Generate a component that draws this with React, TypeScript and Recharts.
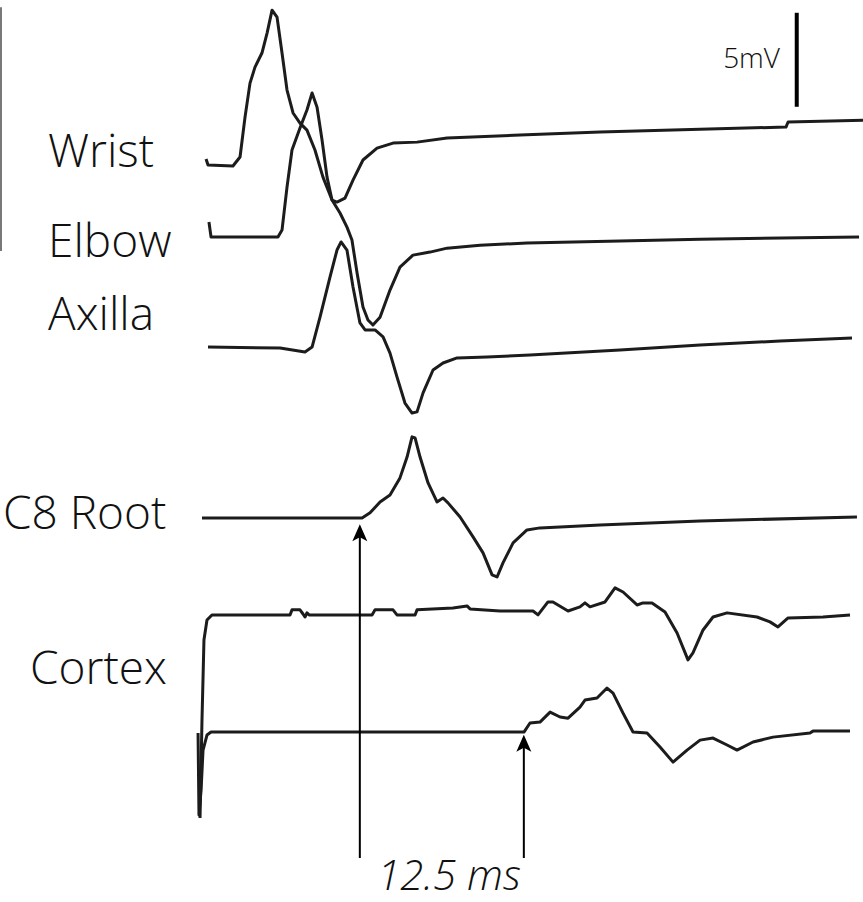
import { Customized, Line, LineChart, ReferenceLine, XAxis, YAxis } from "recharts";

// Each trace: [time in ms, amplitude in mV relative to its own baseline]
const wristTrace: [number, number][] = [
	[0.08, 0.32], [0.23, 0], [2.13, -0.05], [2.67, 0.43], [3.05, 2.55], [3.43, 4.36],
	[3.81, 5.21], [4.34, 5.96], [4.73, 7.02], [5.11, 8.24], [5.49, 7.87], [5.87, 5.96],
	[6.25, 3.99], [6.71, 2.77], [7.24, 2.23], [7.77, 1.86], [8.38, 0.8], [8.99, -0.64],
	[9.68, -1.86], [10.06, -1.97], [10.67, -1.76], [11.28, -0.8], [12.04, 0.27],
	[13.11, 0.9], [14.33, 1.17], [16.16, 1.22], [18.45, 1.44], [24.01, 1.6], [30.11, 1.76],
	[37.73, 1.91], [44.28, 2.02], [44.44, 2.29], [50.15, 2.39],
];

const elbowTrace: [number, number][] = [
	[0.3, 0.8], [0.46, 0], [5.56, 0], [5.87, 0.37], [6.25, 2.66], [6.63, 4.63], [7.24, 5.8],
	[7.77, 6.76], [8.16, 7.66], [8.54, 6.91], [8.92, 5.16], [9.3, 3.19], [9.68, 1.97],
	[10.29, 1.28], [10.82, 0.53], [11.2, -0.16], [11.59, -1.91], [12.04, -3.72],
	[12.42, -4.41], [12.8, -4.68], [13.34, -4.26], [14.1, -2.82], [14.86, -1.6],
	[15.85, -0.96], [17.15, -0.8], [18.45, -0.59], [20.96, -0.43], [24.54, -0.32],
	[31.63, -0.21], [37.73, -0.11], [49.85, 0],
];

const axillaTrace: [number, number][] = [
	[0.23, 0.05], [5.72, 0], [7.62, -0.21], [8.16, 0.05], [8.77, 1.65], [9.53, 3.78],
	[10.06, 5.21], [10.37, 5.64], [10.82, 5.21], [11.28, 3.24], [11.81, 1.33], [12.2, 0.96],
	[12.96, 0.96], [13.57, 0.59], [14.1, -0.27], [14.63, -1.54], [15.24, -2.93],
	[15.78, -3.46], [16.16, -3.4], [16.62, -2.39], [17.38, -1.17], [18.14, -0.8],
	[19.21, -0.53], [21.49, -0.48], [24.77, -0.37], [31.63, -0.11], [37.73, 0.16],
	[43.83, 0.37], [49.31, 0.53],
];

const c8RootTrace: [number, number][] = [
	[-0.23, 0], [11.97, 0], [12.58, 0.27], [13.34, 0.85], [14.1, 1.22], [14.86, 2.13],
	[15.4, 3.24], [15.78, 4.31], [16.01, 4.26], [16.39, 3.24], [17.0, 1.86], [17.68, 0.85],
	[18.14, 1.06], [18.52, 0.8], [19.44, 0.05], [20.43, -1.01], [21.19, -1.86],
	[21.88, -3.03], [22.26, -3.14], [22.71, -2.39], [23.48, -1.33], [24.54, -0.64],
	[25.53, -0.53], [30.11, -0.37], [37.73, -0.16], [49.69, 0.05],
];

const cortexUpperTrace: [number, number][] = [
	[-0.38, -10.8], [-0.23, -5.59], [-0.08, -1.33], [0.15, -0.27], [0.53, 0], [6.48, 0],
	[6.63, 0.27], [7.24, 0.27], [7.47, 0.05], [7.62, -0.11], [7.77, 0.11], [7.93, 0],
	[12.73, 0], [12.96, 0.27], [14.33, 0.27], [14.63, 0], [16.01, 0], [16.16, 0.27],
	[18.9, 0.37], [19.97, 0.48], [20.2, 0.32], [22.48, 0.21], [25.0, 0.21], [25.38, 0],
	[26.14, 0.69], [26.52, 0.69], [27.67, 0.21], [28.58, 0.43], [28.96, 0.64],
	[29.34, 0.43], [30.49, 0.69], [31.25, 1.44], [31.86, 1.22], [32.93, 0.53],
	[33.38, 0.64], [34.07, 0.64], [35.06, 0.16], [35.98, -0.96], [36.81, -2.39],
	[37.19, -2.02], [37.96, -0.8], [38.72, -0.11], [39.79, 0.11], [42.07, -0.11],
	[43.06, -0.37], [43.67, -0.64], [44.44, -0.16], [47.1, -0.11], [49.16, 0],
];

const cortexLowerTrace: [number, number][] = [
	[-0.53, -0.05], [-0.46, -4.41], [-0.3, -3.09], [-0.15, -0.96], [0.15, -0.16],
	[0.46, 0], [24.31, 0], [24.77, 0.48], [25.53, 0.53], [26.3, 1.06], [27.06, 0.8],
	[27.67, 0.74], [28.58, 1.33], [28.96, 1.7], [29.88, 1.81], [30.64, 2.34], [31.1, 2.07],
	[31.86, 1.01], [32.62, 0], [33.69, -0.05], [34.68, -0.8], [35.67, -1.6], [36.74, -0.96],
	[37.73, -0.43], [38.72, -0.32], [39.79, -0.69], [40.55, -0.96], [41.77, -0.53],
	[43.29, -0.27], [46.11, -0.05], [46.34, 0.05], [49.16, 0.05],
];

// vertical stacking of the recordings (mV)
const baselines = [39.2, 35.37, 29.47, 20.43, 15.27, 9.04];
const traces = [wristTrace, elbowTrace, axillaTrace, c8RootTrace, cortexUpperTrace, cortexLowerTrace];

// onset markers, 12.5 ms apart
const c8Onset = 11.8;
const cortexOnset = c8Onset + 12.5;
const arrowTips = [20.1, 8.9];
const arrowBottom = 2.34;

// 5 mV calibration bar
const calTime = 45.1;
const calTop = 47.3;
const calHeight = 5;

const labelFont = "'Open Sans', 'Noto Sans', sans-serif";

const ArrowShape = (props: any) => {
	const { x1, y1, x2, y2 } = props;
	if (x1 == null || y1 == null) return <g />;
	const tipY = Math.min(y1, y2);
	const baseY = Math.max(y1, y2);
	const x = x1;
	return (
		<g>
			<line x1={x} y1={baseY} x2={x} y2={tipY + 10} stroke="#000" strokeWidth={2} />
			<polygon
				points={`${x},${tipY} ${x - 7.5},${tipY + 17} ${x},${tipY + 13} ${x + 7.5},${tipY + 17}`}
				fill="#000"
			/>
		</g>
	);
};

const Labels = () => (
	<g fontFamily={labelFont} fontWeight={300} fill="#111">
		<text x={48} y={167} fontSize={46}>Wrist</text>
		<text x={48} y={257} fontSize={46}>Elbow</text>
		<text x={48} y={330} fontSize={46}>Axilla</text>
		<text x={3} y={529} fontSize={46}>C8 Root</text>
		<text x={30} y={684} fontSize={46}>Cortex</text>
		<text x={780} y={68} fontSize={28} textAnchor="end">5mV</text>
		<text x={449} y={890} fontSize={42} fontStyle="italic" textAnchor="middle">12.5 ms</text>
	</g>
);

const App = () => {
	const series = traces.map((trace, i) =>
		trace.map(([t, v]) => ({ t, y: baselines[i] + v })),
	);

	return (
		<div style={{ position: "absolute", left: 0, top: 0, background: "#fff" }}>
			<LineChart width={863} height={902} margin={{ top: 0, right: 0, bottom: 0, left: 0 }}>
				<XAxis type="number" dataKey="t" domain={[-15.625, 50.15]} allowDataOverflow hide />
				<YAxis type="number" domain={[0, 47.98]} allowDataOverflow hide />
				{/* faint edge rule on the far left */}
				<ReferenceLine
					segment={[{ x: -15.55, y: 47.6 }, { x: -15.55, y: 34.63 }]}
					stroke="#777"
					strokeWidth={2}
				/>
				{series.map((data, i) => (
					<Line
						key={i}
						data={data}
						dataKey="y"
						type="linear"
						stroke="#1c1c1c"
						strokeWidth={3}
						strokeLinejoin="round"
						dot={false}
						activeDot={false}
						isAnimationActive={false}
					/>
				))}
				<ReferenceLine
					segment={[{ x: calTime, y: calTop }, { x: calTime, y: calTop - calHeight }]}
					stroke="#000"
					strokeWidth={4}
				/>
				{[c8Onset, cortexOnset].map((t, i) => (
					<ReferenceLine
						key={`arrow-${i}`}
						segment={[{ x: t, y: arrowBottom }, { x: t, y: arrowTips[i] }]}
						stroke="#000"
						shape={ArrowShape}
					/>
				))}
				<Customized component={Labels} />
			</LineChart>
		</div>
	);
};

export default App;
